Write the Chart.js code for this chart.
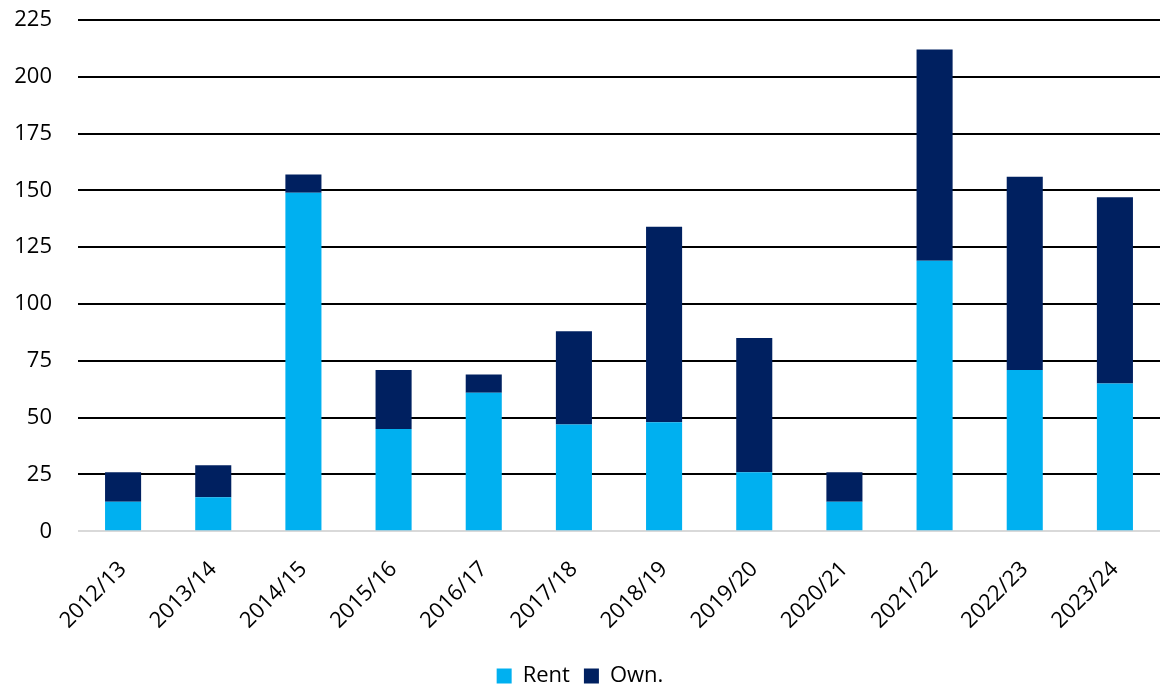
<!DOCTYPE html>
<html>
<head>
<meta charset="utf-8">
<script src="https://cdn.jsdelivr.net/npm/chart.js@4.4.1/dist/chart.umd.min.js"></script>
<style>
  html, body { margin: 0; padding: 0; background: #fff; }
  #wrap { width: 1161px; height: 686px; position: relative; }
</style>
</head>
<body>
<div id="wrap"><canvas id="tenureChart"></canvas></div>
<script>
// Stacked completions by tenure, per financial year
const years = ["2012/13", "2013/14", "2014/15", "2015/16", "2016/17", "2017/18",
               "2018/19", "2019/20", "2020/21", "2021/22", "2022/23", "2023/24"];
const rent = [13, 15, 149, 45, 61, 47, 48, 26, 13, 119, 71, 65];
const own = [13, 14, 8, 26, 8, 41, 86, 59, 13, 93, 85, 82];
const yTicks = [0, 25, 50, 75, 100, 125, 150, 175, 200, 225];

const font = "Open Sans, Noto Sans, sans-serif";

window.onload = function () {
  const ctx = document.getElementById("tenureChart").getContext("2d");
  new Chart(ctx, {
    type: "bar",
    data: {
      labels: years,
      datasets: [
        { label: "Rent", data: rent, backgroundColor: "#00B0F0" },
        { label: "Own.", data: own, backgroundColor: "#002060" },
      ],
    },
    options: {
      responsive: true,
      maintainAspectRatio: false,
      animation: false,
      layout: { padding: { top: 20, right: 1, left: 0, bottom: -11 } },
      datasets: { bar: { barPercentage: 0.8, categoryPercentage: 0.5 } },
      plugins: {
        tooltip: { enabled: false },
        legend: {
          position: "bottom",
          labels: {
            boxWidth: 15, boxHeight: 15, padding: 14,
            color: "#000", font: { family: font, size: 22 },
          },
        },
      },
      scales: {
        x: {
          stacked: true,
          grid: { display: false },
          border: { display: false },
          ticks: {
            color: "#000", font: { family: font, size: 22 },
            minRotation: 45, maxRotation: 45, padding: 17,
          },
        },
        y: {
          stacked: true,
          min: 0, max: 225,
          afterBuildTicks: (axis) => { axis.ticks = yTicks.map((v) => ({ value: v })); },
          // fixed axis width so the gridlines start where the labels end + gap
          afterFit: (axis) => { axis.width = 78; },
          border: { display: false },
          grid: {
            drawTicks: true,
            tickLength: 22,
            tickColor: "rgba(0,0,0,0)",
            lineWidth: 2,
            color: (c) => (c.tick.value === 0 ? "#d9d9d9" : "#000"),
          },
          ticks: {
            color: "#000", font: { family: font, size: 22 },
            padding: 4,
          },
        },
      },
    },
  });
};
</script>
</body>
</html>
